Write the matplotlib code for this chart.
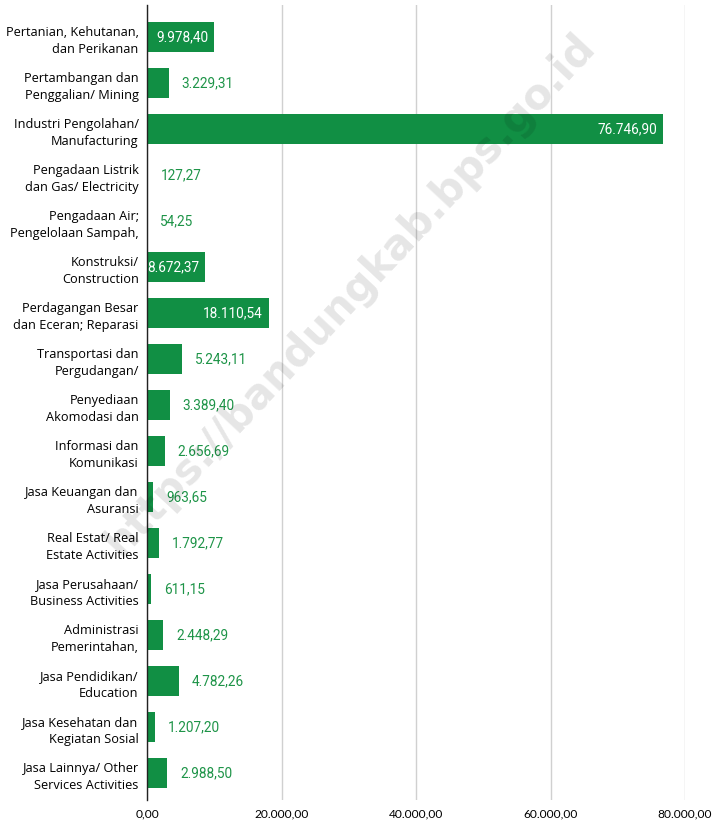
import numpy as np
import matplotlib.pyplot as plt

categories = [
    'Pertanian, Kehutanan,\ndan Perikanan',
    'Pertambangan dan\nPenggalian/ Mining',
    'Industri Pengolahan/\nManufacturing',
    'Pengadaan Listrik\ndan Gas/ Electricity',
    'Pengadaan Air;\nPengelolaan Sampah,',
    'Konstruksi/\nConstruction',
    'Perdagangan Besar\ndan Eceran; Reparasi',
    'Transportasi dan\nPergudangan/',
    'Penyediaan\nAkomodasi dan',
    'Informasi dan\nKomunikasi',
    'Jasa Keuangan dan\nAsuransi',
    'Real Estat/ Real\nEstate Activities',
    'Jasa Perusahaan/\nBusiness Activities',
    'Administrasi\nPemerintahan,',
    'Jasa Pendidikan/\nEducation',
    'Jasa Kesehatan dan\nKegiatan Sosial',
    'Jasa Lainnya/ Other\nServices Activities',
]
values = [9978.40, 3229.31, 76746.90, 127.27, 54.25, 8672.37, 18110.54,
          5243.11, 3389.40, 2656.69, 963.65, 1792.77, 611.15, 2448.29,
          4782.26, 1207.20, 2988.50]
xticks = [0, 20000, 40000, 60000, 80000]


def fmt_id(v):
    s = '{:,.2f}'.format(v)
    return s.replace(',', 'X').replace('.', ',').replace('X', '.')


bar_color = '#118f44'
label_color = '#1e9448'

fig = plt.figure(figsize=(7.14, 8.24), dpi=100)
ax = fig.add_axes([147 / 714, 1 - 800 / 824, 538 / 714, 795 / 824])

y = np.arange(len(values))
ax.barh(y, values, height=0.65, color=bar_color, zorder=3)

for yi, v in zip(y, values):
    if v > 7000:
        ax.annotate(fmt_id(v), (v, yi), xytext=(-6, 0), textcoords='offset pixels',
                    ha='right', va='center', color='white',
                    family='Roboto', fontsize=9.8, zorder=4)
    else:
        ax.annotate(fmt_id(v), (v, yi), xytext=(13, 0), textcoords='offset pixels',
                    ha='left', va='center', color=label_color,
                    family='Roboto', fontsize=9.8, zorder=4)

ax.set_xlim(0, 80000)
ax.set_ylim(16.58, -0.7)
ax.set_yticks(y)
ax.set_yticklabels(categories, family='Open Sans', fontsize=9.2,
                   ha='right', multialignment='right', linespacing=1.4)
ax.set_xticks(xticks)
ax.set_xticklabels([fmt_id(t) for t in xticks], family='Lato', fontsize=8.6)
ax.tick_params(axis='both', length=0)
ax.tick_params(axis='y', pad=6)
ax.tick_params(axis='x', pad=6)

ax.grid(axis='x', color='#d0d0d0', linewidth=1, zorder=0)
for s in ['top', 'right', 'bottom']:
    ax.spines[s].set_visible(False)
ax.spines['left'].set_color('#222222')
ax.spines['left'].set_linewidth(1)
ax.spines['left'].set_zorder(5)

fig.text(350 / 714, 1 - 295 / 824, 'https://bandungkab.bps.go.id',
         rotation=47, ha='center', va='center', fontsize=30,
         fontweight='bold', color='#000000', alpha=0.1,
         family='DejaVu Sans', zorder=10)

fig.savefig('out.png', dpi=100)
